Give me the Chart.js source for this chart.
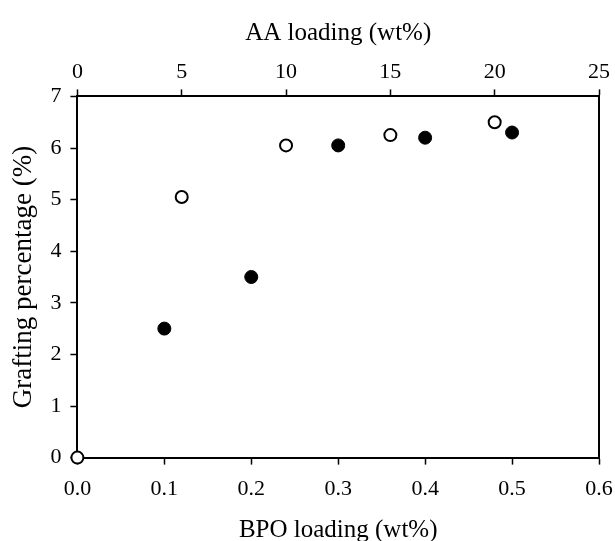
<!DOCTYPE html>
<html>
<head>
<meta charset="utf-8">
<script src="https://cdn.jsdelivr.net/npm/chart.js@4.4.1/dist/chart.umd.min.js"></script>
<style>
  html, body { margin: 0; padding: 0; background: #fff; }
  #wrap { width: 615px; height: 541px; }
</style>
</head>
<body>
<div id="wrap"><canvas id="c" width="615" height="541"></canvas></div>
<script>
// BPO loading series (bottom axis, wt%)
const bpoLoading = [0.1, 0.2, 0.3, 0.4, 0.5];
const bpoGrafting = [2.5, 3.5, 6.05, 6.2, 6.3];
// AA loading series (top axis, wt%)
const aaLoading = [0, 5, 10, 15, 20];
const aaGrafting = [0, 5.05, 6.05, 6.25, 6.5];

const bottomTicks = [0.0, 0.1, 0.2, 0.3, 0.4, 0.5, 0.6];
const topTicks = [0, 5, 10, 15, 20, 25];
const yTicks = [0, 1, 2, 3, 4, 5, 6, 7];

const FONT = '"Liberation Serif", "Times New Roman", serif';

// let the end tick labels overhang the frame instead of shrinking the plot
function noSidePadding(scale) {
  scale.paddingLeft = 0;
  scale.paddingRight = 0;
}

function axisStyle(extra) {
  return Object.assign({
    grid: { drawOnChartArea: false, drawTicks: true, tickLength: 7, tickColor: '#000', tickWidth: 1.5 },
    border: { display: true, color: '#000', width: 2 },
  }, extra);
}

new Chart(document.getElementById('c'), {
  type: 'scatter',
  data: {
    datasets: [
      {
        label: 'BPO',
        data: bpoLoading.map((x, i) => ({ x, y: bpoGrafting[i] })),
        xAxisID: 'x',
        yAxisID: 'y',
        backgroundColor: '#000',
        borderColor: '#000',
        borderWidth: 1,
        pointRadius: 6.5,
        clip: false
      },
      {
        label: 'AA',
        data: aaLoading.map((x, i) => ({ x, y: aaGrafting[i] })),
        xAxisID: 'x2',
        yAxisID: 'y',
        backgroundColor: '#fff',
        borderColor: '#000',
        borderWidth: 2,
        pointRadius: 6,
        clip: false
      }
    ]
  },
  options: {
    responsive: false,
    animation: false,
    devicePixelRatio: 1,
    layout: { padding: { left: 8, right: 16, top: 18, bottom: -4 } },
    plugins: { legend: { display: false }, tooltip: { enabled: false } },
    scales: {
      x: axisStyle({
        type: 'linear', position: 'bottom', min: 0, max: 0.6,
        afterBuildTicks: ax => { ax.ticks = bottomTicks.map(v => ({ value: v })); },
        afterFit: noSidePadding,
        ticks: { color: '#000', font: { family: FONT, size: 22 }, padding: 11, callback: v => v.toFixed(1), maxRotation: 0 },
        title: { display: true, text: 'BPO loading (wt%)', color: '#000', font: { family: FONT, size: 25 }, padding: { top: 2, bottom: 0 } }
      }),
      x2: axisStyle({
        type: 'linear', position: 'top', min: 0, max: 25,
        afterBuildTicks: ax => { ax.ticks = topTicks.map(v => ({ value: v })); },
        afterFit: noSidePadding,
        ticks: { color: '#000', font: { family: FONT, size: 22 }, padding: 4, maxRotation: 0 },
        title: { display: true, text: 'AA loading (wt%)', color: '#000', font: { family: FONT, size: 25 }, padding: { top: 0, bottom: 7 } }
      }),
      y: axisStyle({
        type: 'linear', position: 'left', min: 0, max: 7,
        afterBuildTicks: ax => { ax.ticks = yTicks.map(v => ({ value: v })); },
        ticks: { color: '#000', font: { family: FONT, size: 22 }, padding: 9 },
        title: { display: true, text: 'Grafting percentage (%)', color: '#000', font: { family: FONT, size: 27 }, padding: { top: 0, bottom: 1 } }
      }),
      y2: {
        type: 'linear', position: 'right', min: 0, max: 7,
        ticks: { display: false },
        grid: { display: false, drawTicks: false },
        border: { display: true, color: '#000', width: 2 }
      }
    }
  }
});
</script>
</body>
</html>
